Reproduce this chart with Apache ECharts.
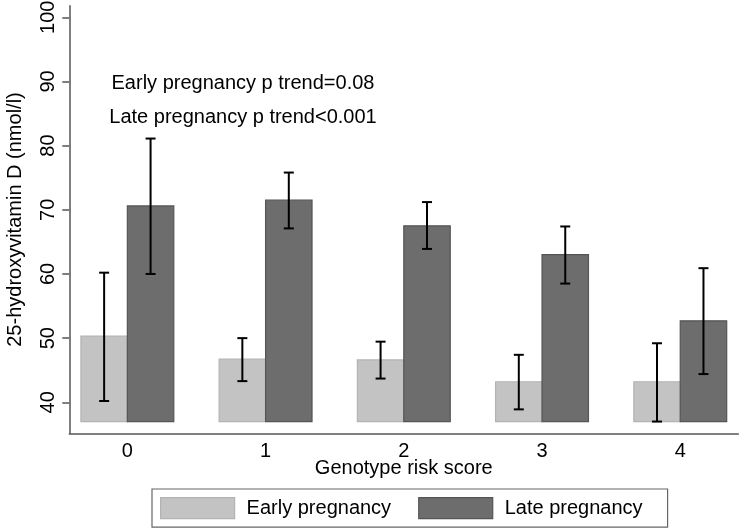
<!DOCTYPE html>
<html>
<head>
<meta charset="utf-8">
<script src="https://cdn.jsdelivr.net/npm/echarts@6/dist/echarts.min.js"></script>
<style>html,body{margin:0;padding:0;background:#fff}#c{width:740px;height:529px}</style>
</head>
<body>
<div id="c"></div>
<script>
// ---- data ----
const categories = [0, 1, 2, 3, 4];
const earlyMean = [50.3, 46.75, 46.6, 43.2, 43.2];
const earlyLow  = [40.2, 43.3, 43.7, 38.9, 37.0];
const earlyHigh = [60.2, 50.0, 49.45, 47.4, 49.2];
const lateMean  = [70.6, 71.5, 67.5, 63.0, 52.7];
const lateLow   = [60.0, 67.1, 63.9, 58.5, 44.4];
const lateHigh  = [81.1, 75.8, 71.2, 67.4, 60.9];
const yTicks = [40, 50, 60, 70, 80, 90, 100];
const barBase = 37;
const seriesNames = ['Early pregnancy', 'Late pregnancy'];
const annotations = ['Early pregnancy p trend=0.08', 'Late pregnancy p trend<0.001'];

const FONT = '"Liberation Sans", Arial, sans-serif';
const FS = 20;
const barW = 0.336;
const colors = [
  {fill: '#c3c3c3', border: '#b3b3b3'},
  {fill: '#6d6d6d', border: '#555555'}
];

function makeData(m, lo, hi) {
  return categories.map((c, i) => [c, m[i], lo[i], hi[i]]);
}

function makeRender(idx) {
  return function (params, api) {
    const x = api.value(0), v = api.value(1), lo = api.value(2), hi = api.value(3);
    const off = idx === 0 ? -barW : 0;
    const pTop = api.coord([x + off, v]);
    const pBot = api.coord([x + off + barW, barBase]);
    const cx = api.coord([x + off + barW / 2, v])[0];
    const yHi = api.coord([x, hi])[1];
    const yLo = api.coord([x, lo])[1];
    const cap = 5;
    const ls = {stroke: '#000', lineWidth: 2};
    return {
      type: 'group',
      children: [
        {type: 'rect', shape: {x: pTop[0], y: pTop[1], width: pBot[0] - pTop[0], height: pBot[1] - pTop[1]},
          style: {fill: colors[idx].fill, stroke: colors[idx].border, lineWidth: 1.2}},
        {type: 'line', shape: {x1: cx, y1: yHi, x2: cx, y2: yLo}, style: ls},
        {type: 'line', shape: {x1: cx - cap, y1: yHi, x2: cx + cap, y2: yHi}, style: ls},
        {type: 'line', shape: {x1: cx - cap, y1: yLo, x2: cx + cap, y2: yLo}, style: ls}
      ]
    };
  };
}

const chart = echarts.init(document.getElementById('c'), null, {renderer: 'canvas'});
chart.setOption({
  animation: false,
  backgroundColor: '#fff',
  textStyle: {fontFamily: FONT, color: '#000'},
  grid: {left: 69.3, right: 1.7, top: 5.7, bottom: 95.7, containLabel: false, outerBoundsMode: 'none'},
  xAxis: {
    type: 'value', min: -0.42, max: 4.42,
    name: 'Genotype risk score', nameLocation: 'middle', nameGap: 25, nameMoveOverlap: false,
    nameTextStyle: {fontSize: FS, color: '#000', fontFamily: FONT, verticalAlign: 'top'},
    axisLine: {show: true, onZero: false, lineStyle: {color: '#555', width: 1.5}},
    axisTick: {show: false},
    splitLine: {show: false},
    axisLabel: {customValues: categories, fontSize: FS, color: '#000', fontFamily: FONT, margin: 8}
  },
  yAxis: {
    type: 'value', min: 35.17, max: 101.8,
    name: '25-hydroxyvitamin D (nmol/l)', nameLocation: 'middle', nameGap: 43.5,
    nameTextStyle: {fontSize: FS, color: '#000', fontFamily: FONT},
    axisLine: {show: true, onZero: false, lineStyle: {color: '#555', width: 1.5}},
    axisTick: {show: true, customValues: yTicks, length: 7, lineStyle: {color: '#555', width: 1.5}},
    splitLine: {show: false},
    axisLabel: {customValues: yTicks, rotate: 90, fontSize: FS, color: '#000', fontFamily: FONT, margin: 11}
  },
  legend: {
    left: 152, top: 489,
    orient: 'horizontal',
    padding: [8, 25, 8, 8],
    borderColor: '#666', borderWidth: 1.2,
    itemWidth: 74, itemHeight: 21, itemGap: 27,
    icon: 'rect',
    textStyle: {fontSize: FS, color: '#000', fontFamily: FONT, padding: [0, 0, 0, 7]},
    data: seriesNames.map((n, i) => ({name: n, itemStyle: {color: colors[i].fill, borderColor: colors[i].border, borderWidth: 1.2}}))
  },
  graphic: annotations.map((t, i) => ({
    type: 'text', x: 243, y: 83 + i * 34,
    style: {text: t, font: FS + 'px ' + FONT, fill: '#000', align: 'center', verticalAlign: 'middle'}
  })),
  series: [
    {name: seriesNames[0], type: 'custom', renderItem: makeRender(0), itemStyle: {color: colors[0].fill},
      encode: {x: 0, y: [1, 2, 3]}, data: makeData(earlyMean, earlyLow, earlyHigh), clip: false},
    {name: seriesNames[1], type: 'custom', renderItem: makeRender(1), itemStyle: {color: colors[1].fill},
      encode: {x: 0, y: [1, 2, 3]}, data: makeData(lateMean, lateLow, lateHigh), clip: false}
  ]
});
</script>
</body>
</html>
